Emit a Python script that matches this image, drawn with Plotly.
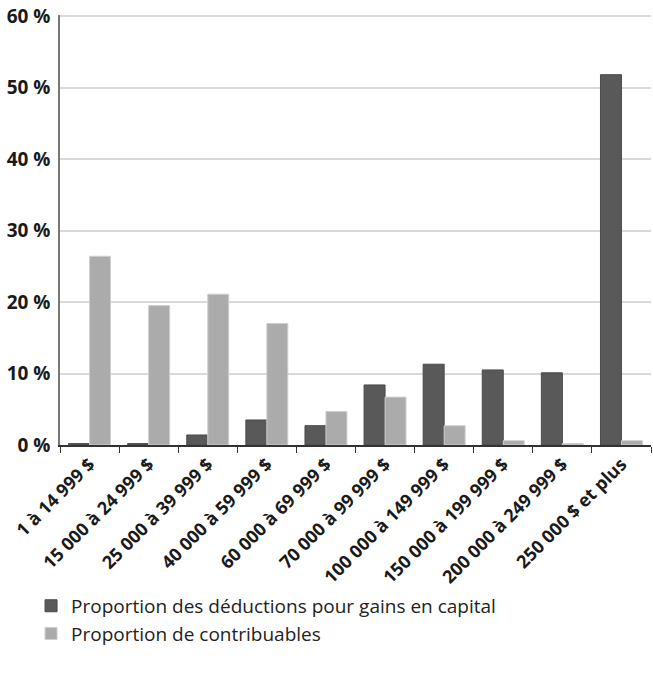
import plotly.graph_objects as go

categories = [
    "1 à 14 999 $", "15 000 à 24 999 $", "25 000 à 39 999 $", "40 000 à 59 999 $",
    "60 000 à 69 999 $", "70 000 à 99 999 $", "100 000 à 149 999 $",
    "150 000 à 199 999 $", "200 000 à 249 999 $", "250 000 $ et plus",
]
deductions = [0.2, 0.2, 1.4, 3.5, 2.7, 8.4, 11.3, 10.5, 10.1, 51.8]
contribuables = [26.4, 19.5, 21.1, 17.0, 4.7, 6.7, 2.7, 0.6, 0.2, 0.6]
y_ticks = [0, 10, 20, 30, 40, 50, 60]
y_labels = [f"{v} %" for v in y_ticks]

DARK = "#595959"
LIGHT = "#ababab"
FONT = "Open Sans"

fig = go.Figure()
fig.add_trace(go.Bar(
    x=categories, y=deductions, name="Proportion des déductions pour gains en capital",
    marker=dict(color=DARK, line=dict(color="#4a4a4a", width=1)),
))
fig.add_trace(go.Bar(
    x=categories, y=contribuables, name="Proportion de contribuables",
    marker=dict(color=LIGHT, line=dict(color="#cfcfcf", width=1)),
))

fig.update_layout(
    width=653, height=673,
    margin=dict(l=60, r=2, t=15, b=228),
    plot_bgcolor="white", paper_bgcolor="white",
    barmode="group", bargap=0.29, bargroupgap=0,
    font=dict(family=FONT, color="#1a1a1a"),
    showlegend=True,
    legend=dict(
        orientation="v", x=-0.049, xanchor="left", y=-0.33, yanchor="top",
        font=dict(size=19, color="#222222"), traceorder="normal",
    ),
)
fig.update_xaxes(
    tickangle=-45, tickfont=dict(size=18, family=FONT, weight="bold"),
    showline=True, linecolor="#333333", linewidth=1.5,
    ticks="outside", tickson="boundaries", ticklen=6, tickcolor="#333333",
    showgrid=False, automargin=False,
)
fig.update_yaxes(
    range=[0, 60.15], tickvals=y_ticks, ticktext=y_labels,
    tickfont=dict(size=19, family=FONT, weight="bold"),
    showline=True, linecolor="#777777", linewidth=1.5,
    gridcolor="#d9d9d9", gridwidth=1.5, zeroline=False,
    ticks="", ticklabelstandoff=4, automargin=False,
    ticklabeloverflow="allow",
)

# drop the default 8px body margin so the figure fills the window exactly
fig.write_html(
    "out.html",
    config={"displayModeBar": False},
    post_script="document.body.style.margin='0';",
)
